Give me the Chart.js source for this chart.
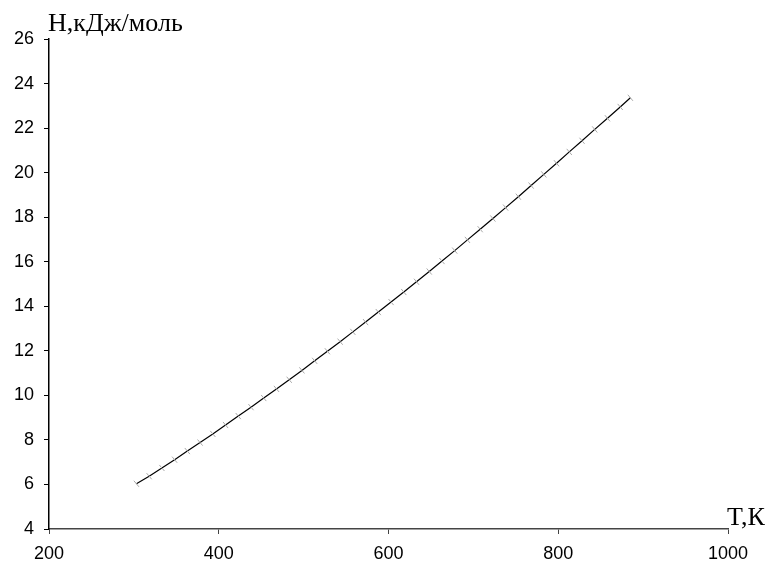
<!DOCTYPE html>
<html>
<head>
<meta charset="utf-8">
<script src="https://cdn.jsdelivr.net/npm/chart.js@4"></script>
<style>
  html, body { margin: 0; padding: 0; background: #fff; }
  #wrap { width: 769px; height: 566px; }
</style>
</head>
<body>
<div id="wrap"><canvas id="enthalpyChart"></canvas></div>
<script>
// T, K
const temps = [303, 318, 333, 348, 363, 378, 393, 408, 423, 438,
  453, 468, 483, 498, 513, 528, 543, 558, 573, 588,
  603, 618, 633, 648, 663, 678, 693, 708, 723, 738,
  753, 768, 783, 798, 813, 828, 843, 858, 873, 885];
// H, kJ/mol
const enthalpy = [6.03, 6.37, 6.74, 7.11, 7.50, 7.88, 8.27, 8.67, 9.07, 9.47,
  9.88, 10.29, 10.70, 11.12, 11.55, 11.98, 12.41, 12.85, 13.29, 13.74,
  14.19, 14.64, 15.10, 15.56, 16.03, 16.50, 16.98, 17.46, 17.94, 18.43,
  18.92, 19.42, 19.92, 20.42, 20.93, 21.43, 21.94, 22.44, 22.95, 23.36];
const xTicks = [200, 400, 600, 800, 1000];
const yTicks = [4, 6, 8, 10, 12, 14, 16, 18, 20, 22, 24, 26];

const axisTitles = {
  id: "axisTitles",
  afterDraw(chart) {
    const ctx = chart.ctx;
    const area = chart.chartArea;
    ctx.save();
    ctx.fillStyle = "#000";
    ctx.font = '26px "Liberation Serif", "Times New Roman", serif';
    ctx.textBaseline = "alphabetic";
    ctx.textAlign = "left";
    ctx.fillText("H,кДж/моль", area.left - 1, area.top - 8);
    ctx.fillText("T,К", area.right - 1, area.bottom - 4);
    ctx.restore();
  },
};

const points = temps.map((t, i) => ({ x: t, y: enthalpy[i] }));
const tickFont = { family: '"Liberation Sans", Arial, sans-serif', size: 18 };

new Chart(document.getElementById("enthalpyChart"), {
  type: "scatter",
  data: {
    datasets: [
      {
        data: points,
        showLine: true,
        borderColor: "#000",
        borderWidth: 1.2,
        tension: 0,
        pointStyle: "line",
        pointRotation: 50,
        pointRadius: 4,
        pointBorderColor: "#aaa",
        pointBorderWidth: 1,
        pointBackgroundColor: "#aaa",
      },
    ],
  },
  options: {
    responsive: true,
    maintainAspectRatio: false,
    animation: false,
    events: [],
    layout: { padding: { top: 39, right: 41, left: 0, bottom: 0 } },
    plugins: { legend: { display: false }, tooltip: { enabled: false } },
    scales: {
      x: {
        type: "linear",
        min: 200,
        max: 1000,
        afterBuildTicks(scale) {
          scale.ticks = xTicks.map((v) => ({ value: v }));
        },
        afterFit(scale) {
          scale.height = 37;
        },
        border: { display: true, color: "#444", width: 1.5 },
        grid: { drawOnChartArea: false, drawTicks: true, tickLength: 5, color: "#444" },
        ticks: {
          color: "#000",
          padding: 9,
          font: tickFont,
          callback: (v) => String(v),
        },
      },
      y: {
        type: "linear",
        min: 4,
        max: 26,
        afterBuildTicks(scale) {
          scale.ticks = yTicks.map((v) => ({ value: v }));
        },
        afterFit(scale) {
          scale.width = 49;
        },
        border: { display: true, color: "#000", width: 1.5 },
        grid: { drawOnChartArea: false, drawTicks: true, tickLength: 5, color: "#000" },
        ticks: {
          color: "#000",
          padding: 10,
          font: tickFont,
          callback: (v) => String(v),
        },
      },
    },
  },
  plugins: [axisTitles],
});
</script>
</body>
</html>
